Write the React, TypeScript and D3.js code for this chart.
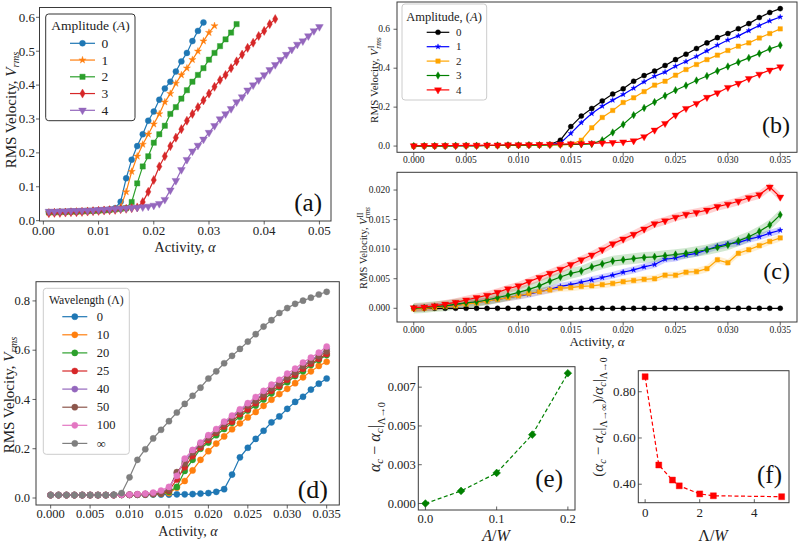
import React from 'react';
import * as d3 from 'd3';

const FONT = '"Liberation Serif","DejaVu Serif","Times New Roman",serif';

// ---------- shared x grids (activity alpha) ----------
const alphaA = [0.001,0.002,0.003,0.004,0.005,0.006,0.007,0.008,0.009,0.010,0.011,0.012,0.013,0.014,0.015,0.016,0.017,0.018,0.019,0.020,0.021,0.022,0.023,0.024,0.025,0.026,0.027,0.028,0.029,0.030,0.031,0.032,0.033,0.034,0.035,0.036,0.037,0.038,0.039,0.040,0.041,0.042,0.043,0.044,0.045,0.046,0.047,0.048,0.049,0.050];
const alphaB = [0.000,0.001,0.002,0.003,0.004,0.005,0.006,0.007,0.008,0.009,0.010,0.011,0.012,0.013,0.014,0.015,0.016,0.017,0.018,0.019,0.020,0.021,0.022,0.023,0.024,0.025,0.026,0.027,0.028,0.029,0.030,0.031,0.032,0.033,0.034,0.035];

// ---------- panel (a) ----------
const aLabels = ['0','1','2','3','4'];
const a0 = [0.025,0.025,0.026,0.026,0.027,0.027,0.028,0.028,0.029,0.030,0.031,0.033,0.037,0.056,0.125,0.18,0.22,0.255,0.295,0.322,0.357,0.39,0.41,0.44,0.47,0.495,0.53,0.56,0.585];
const a1 = [0.024,0.025,0.025,0.026,0.026,0.027,0.027,0.028,0.029,0.030,0.031,0.032,0.034,0.04,0.085,0.145,0.19,0.225,0.255,0.285,0.315,0.35,0.375,0.405,0.43,0.45,0.475,0.50,0.53,0.555,0.575];
const a2 = [0.025,0.025,0.026,0.026,0.027,0.027,0.028,0.029,0.029,0.030,0.031,0.032,0.034,0.035,0.037,0.055,0.11,0.16,0.19,0.23,0.255,0.28,0.315,0.335,0.36,0.385,0.41,0.43,0.45,0.475,0.495,0.515,0.535,0.555,0.58];
const a3 = [0.022,0.023,0.023,0.024,0.025,0.025,0.026,0.027,0.028,0.029,0.030,0.031,0.032,0.034,0.035,0.037,0.039,0.055,0.085,0.12,0.16,0.19,0.22,0.245,0.27,0.295,0.315,0.335,0.355,0.375,0.395,0.415,0.43,0.45,0.47,0.49,0.51,0.525,0.545,0.56,0.58,0.595];
const a4 = [0.027,0.027,0.028,0.028,0.029,0.029,0.030,0.030,0.031,0.032,0.033,0.034,0.035,0.036,0.037,0.038,0.039,0.040,0.042,0.045,0.050,0.062,0.09,0.118,0.15,0.18,0.205,0.222,0.24,0.26,0.28,0.3,0.315,0.33,0.35,0.365,0.385,0.4,0.415,0.43,0.445,0.46,0.475,0.49,0.505,0.52,0.53,0.545,0.56,0.572];

// ---------- panel (b) ----------
const bLabels = ['0','1','2','3','4'];
const b0 = [0.000,0.001,0.001,0.001,0.002,0.002,0.002,0.003,0.003,0.004,0.004,0.005,0.006,0.008,0.03,0.1,0.154,0.193,0.232,0.267,0.294,0.333,0.362,0.385,0.414,0.444,0.472,0.501,0.53,0.557,0.578,0.603,0.629,0.66,0.686,0.706];
const b1 = [0.000,0.001,0.001,0.001,0.002,0.002,0.002,0.003,0.003,0.004,0.004,0.005,0.006,0.007,0.015,0.065,0.12,0.167,0.205,0.236,0.265,0.297,0.33,0.359,0.38,0.41,0.434,0.46,0.489,0.518,0.545,0.566,0.593,0.619,0.643,0.663];
const b2 = [0.000,0.001,0.001,0.001,0.002,0.002,0.002,0.003,0.003,0.004,0.004,0.005,0.005,0.006,0.007,0.009,0.03,0.094,0.147,0.183,0.224,0.248,0.28,0.313,0.333,0.364,0.393,0.419,0.444,0.467,0.491,0.513,0.53,0.555,0.578,0.602];
const b3 = [0.000,0.001,0.001,0.001,0.002,0.002,0.002,0.003,0.003,0.004,0.004,0.005,0.005,0.006,0.007,0.008,0.009,0.011,0.03,0.07,0.111,0.159,0.196,0.226,0.258,0.287,0.311,0.337,0.36,0.386,0.409,0.431,0.453,0.475,0.499,0.518];
const b4 = [0.001,0.002,0.002,0.003,0.003,0.004,0.004,0.005,0.005,0.006,0.006,0.007,0.008,0.009,0.010,0.011,0.012,0.014,0.016,0.018,0.021,0.027,0.048,0.082,0.116,0.159,0.193,0.219,0.25,0.273,0.301,0.322,0.347,0.369,0.39,0.407];

// ---------- panel (c) ----------
const c0 = [0,0,0,0,0,0,0,0,0,0,0,0,0,0,0,0,0,0,0,0,0,0,0,0,0,0,0,0,0,0,0,0,0,0,0,0];
const c1 = [0,0.0001,0.0002,0.0004,0.0005,0.0008,0.001,0.0012,0.0015,0.0018,0.0021,0.0024,0.0028,0.0032,0.0037,0.004,0.0044,0.0048,0.0052,0.0056,0.0061,0.0065,0.007,0.0074,0.0083,0.0085,0.009,0.0093,0.0099,0.0105,0.0109,0.0111,0.0117,0.0121,0.0127,0.0132];
const c2 = [-0.0001,0,0.0001,0.0003,0.0004,0.0007,0.0009,0.0012,0.0015,0.0018,0.0021,0.0025,0.0028,0.0031,0.0034,0.0035,0.0037,0.0038,0.004,0.0042,0.0045,0.0047,0.0049,0.005,0.0056,0.0056,0.0061,0.0062,0.0067,0.0082,0.0077,0.0093,0.0099,0.0106,0.0113,0.0119];
const c3 = [0,0.0001,0.0003,0.0004,0.0007,0.0009,0.0011,0.0014,0.0018,0.0022,0.0027,0.0032,0.0038,0.0046,0.0053,0.0059,0.0063,0.007,0.0075,0.008,0.0082,0.0084,0.0086,0.0087,0.0089,0.0091,0.0093,0.0096,0.0099,0.0103,0.0107,0.0114,0.0121,0.013,0.0141,0.0158];
const c4 = [0.0001,0.0002,0.0004,0.0007,0.001,0.0014,0.0018,0.0022,0.0027,0.0033,0.0038,0.0045,0.0052,0.0059,0.0066,0.0074,0.0082,0.009,0.0099,0.0109,0.0117,0.0125,0.0134,0.0143,0.0148,0.0154,0.0159,0.0162,0.0166,0.0172,0.0176,0.0181,0.0187,0.0192,0.0205,0.0188];
const cSpread = [0, 0.0006, 0.0006, 0.0009, 0.0007];

// ---------- panel (d) ----------
const dLabels = ['0','10','20','25','40','50','100','∞'];
const d0 = [0.012,0.012,0.012,0.012,0.012,0.012,0.012,0.012,0.013,0.013,0.013,0.013,0.013,0.014,0.014,0.014,0.015,0.015,0.016,0.018,0.02,0.025,0.036,0.095,0.165,0.204,0.24,0.273,0.307,0.331,0.362,0.39,0.411,0.44,0.464,0.485];
const d10 = [0.012,0.012,0.012,0.012,0.012,0.012,0.012,0.012,0.012,0.013,0.013,0.014,0.015,0.016,0.018,0.02,0.042,0.069,0.112,0.155,0.19,0.221,0.25,0.279,0.303,0.327,0.349,0.374,0.399,0.422,0.443,0.466,0.49,0.514,0.536,0.553];
const d20 = [0.012,0.012,0.012,0.012,0.012,0.012,0.012,0.012,0.012,0.013,0.013,0.014,0.015,0.016,0.018,0.025,0.045,0.11,0.155,0.2,0.225,0.255,0.28,0.305,0.33,0.355,0.375,0.4,0.425,0.45,0.47,0.495,0.515,0.54,0.56,0.58];
const d25 = [0.012,0.012,0.012,0.012,0.012,0.012,0.012,0.012,0.012,0.013,0.013,0.014,0.015,0.017,0.019,0.03,0.075,0.125,0.17,0.205,0.235,0.265,0.29,0.31,0.34,0.36,0.385,0.41,0.435,0.455,0.48,0.5,0.525,0.545,0.565,0.585];
const d40 = [0.012,0.012,0.012,0.012,0.012,0.012,0.012,0.012,0.012,0.013,0.013,0.014,0.016,0.018,0.021,0.04,0.1,0.15,0.19,0.22,0.25,0.275,0.305,0.33,0.355,0.38,0.4,0.425,0.45,0.47,0.495,0.515,0.54,0.56,0.58,0.605];
const d50 = [0.012,0.012,0.012,0.012,0.012,0.012,0.012,0.012,0.012,0.013,0.013,0.014,0.016,0.018,0.02,0.035,0.105,0.14,0.185,0.215,0.245,0.27,0.3,0.325,0.35,0.375,0.395,0.42,0.445,0.465,0.49,0.51,0.535,0.555,0.575,0.595];
const d100 = [0.012,0.012,0.012,0.012,0.012,0.012,0.012,0.012,0.012,0.013,0.014,0.016,0.018,0.022,0.03,0.045,0.09,0.16,0.195,0.225,0.255,0.28,0.31,0.335,0.36,0.385,0.41,0.435,0.46,0.48,0.505,0.525,0.55,0.57,0.59,0.615];
const dInf = [0.012,0.012,0.012,0.012,0.012,0.012,0.012,0.012,0.013,0.02,0.084,0.155,0.198,0.242,0.277,0.312,0.347,0.382,0.415,0.448,0.485,0.514,0.547,0.577,0.605,0.635,0.665,0.696,0.722,0.751,0.771,0.788,0.801,0.813,0.826,0.837];

// ---------- panel (e) ----------
const eAW = [0, 0.05, 0.1, 0.15, 0.2];
const eShift = [0, 0.00081, 0.00197, 0.00444, 0.0084];

// ---------- panel (f) ----------
const fLW = [0, 0.5, 1, 1.25, 2, 2.5, 5];
const fRatio = [0.865, 0.483, 0.418, 0.393, 0.358, 0.35, 0.346];

// ---------- ticks ----------
const xTicksA = [0, 0.01, 0.02, 0.03, 0.04, 0.05];
const xTickLabA = ['0.00','0.01','0.02','0.03','0.04','0.05'];
const yTicksA = [0, 0.1, 0.2, 0.3, 0.4, 0.5, 0.6];
const yTickLabA = ['0.0','0.1','0.2','0.3','0.4','0.5','0.6'];
const xTicksB = [0, 0.005, 0.01, 0.015, 0.02, 0.025, 0.03, 0.035];
const xTickLabB = ['0.000','0.005','0.010','0.015','0.020','0.025','0.030','0.035'];
const yTicksB = [0, 0.2, 0.4, 0.6];
const yTickLabB = ['0.0','0.2','0.4','0.6'];
const yTicksC = [0, 0.005, 0.01, 0.015, 0.02];
const yTickLabC = ['0.000','0.005','0.010','0.015','0.020'];
const yTicksD = [0, 0.2, 0.4, 0.6, 0.8];
const yTickLabD = ['0.0','0.2','0.4','0.6','0.8'];
const xTicksE = [0, 0.1, 0.2];
const xTickLabE = ['0.0','0.1','0.2'];
const yTicksE = [0, 0.0025, 0.005, 0.0075];
const yTickLabE = ['0.000','0.003','0.005','0.007'];
const xTicksF = [0, 2, 4];
const xTickLabF = ['0','2','4'];
const yTicksF = [0.4, 0.6, 0.8];
const yTickLabF = ['0.40','0.60','0.80'];

// ---------- helpers ----------
type Ser = { xs: number[]; ys: number[]; color: string; m: string; ms: number; band?: number; dash?: string; lw?: number };

function symPath(m: string, size: number): string {
  const t = m === 'o' ? d3.symbolCircle : m === '*' ? d3.symbolStar : m === 's' ? d3.symbolSquare : m === 'v' ? d3.symbolTriangle : d3.symbolDiamond;
  return d3.symbol().type(t).size(size)() || '';
}
function symTf(m: string): string {
  if (m === 'v') return ' rotate(180)';
  if (m === 'D') return ' scale(1.73,1)';
  return '';
}
function Mk({ m, ms, color, x, y }: { m: string; ms: number; color: string; x: number; y: number }) {
  return <path d={symPath(m, ms)} transform={`translate(${x},${y})${symTf(m)}`} fill={color} stroke={color} strokeWidth={0.4} />;
}

interface PanelProps {
  box: [number, number, number, number];
  xDom: [number, number];
  yDom: [number, number];
  xTicks: number[]; xTickLabels: string[];
  yTicks: number[]; yTickLabels: string[];
  fs: number; inward?: boolean;
  series: Ser[];
  xLabGap: number; yLabGap: number;
  children?: React.ReactNode;
}

function Panel(p: PanelProps) {
  const [x0, x1, y0, y1] = p.box;
  const sx = d3.scaleLinear().domain(p.xDom).range([x0, x1]);
  const sy = d3.scaleLinear().domain(p.yDom).range([y1, y0]);
  const tl = 3.5;
  const dir = p.inward ? -1 : 1;
  const line = d3.line<[number, number]>().x(d => sx(d[0])).y(d => sy(d[1]));
  return (
    <g>
      {p.series.filter(s => s.band).map((s, i) => {
        const area = d3.area<[number, number]>().x(d => sx(d[0])).y0(d => sy(d[1] - (s.band as number))).y1(d => sy(d[1] + (s.band as number)));
        const pts = s.ys.map((v, k) => [s.xs[k], v] as [number, number]);
        return <path key={'b' + i} d={area(pts) || ''} fill={s.color} fillOpacity={0.18} stroke="none" />;
      })}
      {p.series.map((s, i) => {
        const pts = s.ys.map((v, k) => [s.xs[k], v] as [number, number]);
        return (
          <g key={'s' + i}>
            <path d={line(pts) || ''} fill="none" stroke={s.color} strokeWidth={s.lw ?? 1.2} strokeDasharray={s.dash} />
            {pts.map((d, k) => <Mk key={k} m={s.m} ms={s.ms} color={s.color} x={sx(d[0])} y={sy(d[1])} />)}
          </g>
        );
      })}
      <rect x={x0} y={y0} width={x1 - x0} height={y1 - y0} fill="none" stroke="#3a3a3a" strokeWidth={1} />
      {p.xTicks.map((t, i) => (
        <g key={'xt' + i}>
          <line x1={sx(t)} x2={sx(t)} y1={y1} y2={y1 + dir * tl} stroke="#3a3a3a" strokeWidth={0.8} />
          <text x={sx(t)} y={y1 + p.xLabGap} textAnchor="middle" fontSize={p.fs} fill="#222">{p.xTickLabels[i]}</text>
        </g>
      ))}
      {p.yTicks.map((t, i) => (
        <g key={'yt' + i}>
          <line x1={x0} x2={x0 - dir * tl} y1={sy(t)} y2={sy(t)} stroke="#3a3a3a" strokeWidth={0.8} />
          <text x={x0 - p.yLabGap} y={sy(t)} dy="0.33em" textAnchor="end" fontSize={p.fs} fill="#222">{p.yTickLabels[i]}</text>
        </g>
      ))}
      {p.children}
    </g>
  );
}

interface LegProps {
  box: [number, number, number, number];
  edge: string;
  title: React.ReactNode; titleX: number; titleY: number; titleFs: number;
  items: { label: string; color: string; m: string; ms: number }[];
  y0: number; dy: number; lx0: number; lx1: number; tx: number; fs: number;
}
function Legend(l: LegProps) {
  const [x0, x1, y0, y1] = l.box;
  return (
    <g>
      <rect x={x0} y={y0} width={x1 - x0} height={y1 - y0} rx={3} fill="#fff" fillOpacity={0.85} stroke={l.edge} strokeWidth={1} />
      <text x={l.titleX} y={l.titleY} textAnchor="middle" fontSize={l.titleFs} fill="#222">{l.title}</text>
      {l.items.map((it, i) => {
        const y = l.y0 + i * l.dy;
        return (
          <g key={i}>
            <line x1={l.lx0} x2={l.lx1} y1={y} y2={y} stroke={it.color} strokeWidth={1.2} />
            <Mk m={it.m} ms={it.ms} color={it.color} x={(l.lx0 + l.lx1) / 2} y={y} />
            <text x={l.tx} y={y} dy="0.33em" fontSize={l.fs} fill="#222">{it.label}</text>
          </g>
        );
      })}
    </g>
  );
}

const tab = ['#1f77b4', '#ff7f0e', '#2ca02c', '#d62728', '#9467bd', '#8c564b', '#e377c2', '#7f7f7f'];
const bCol = ['#000000', '#0000ff', '#ffa500', '#008000', '#ff0000'];
const aMk = ['o', '*', 's', 'd', 'v'];
const aMs = [28, 16, 28, 24, 26];
const bMs = [20, 9, 20, 16, 22];

export default function App() {
  const aVals = [a0, a1, a2, a3, a4];
  const bVals = [b0, b1, b2, b3, b4];
  const cVals = [c0, c1, c2, c3, c4];
  const dVals = [d0, d10, d20, d25, d40, d50, d100, dInf];

  const seriesA: Ser[] = aVals.map((v, i) => ({ xs: alphaA, ys: v, color: tab[i], m: aMk[i], ms: aMs[i] }));
  const seriesB: Ser[] = bVals.map((v, i) => ({ xs: alphaB, ys: v, color: bCol[i], m: aMk[i], ms: bMs[i] }));
  const seriesC: Ser[] = cVals.map((v, i) => ({ xs: alphaB, ys: v, color: bCol[i], m: aMk[i], ms: bMs[i], band: cSpread[i] || undefined }));
  const seriesD: Ser[] = dVals.map((v, i) => ({ xs: alphaB, ys: v, color: tab[i], m: 'o', ms: 30 }));
  const seriesE: Ser[] = [{ xs: eAW, ys: eShift, color: '#008000', m: 'D', ms: 17, dash: '4,2.5' }];
  const seriesF: Ser[] = [{ xs: fLW, ys: fRatio, color: '#ff0000', m: 's', ms: 36, dash: '4,2.5' }];

  const it = (s: string) => <tspan fontStyle="italic">{s}</tspan>;

  return (
    <svg width={800} height={546} style={{ position: 'absolute', left: 0, top: 0, background: '#fff' }} fontFamily={FONT}>
      <rect x={0} y={0} width={800} height={546} fill="#fff" />

      {/* (a) */}
      <Panel box={[39.5, 331, 7.5, 221]} xDom={[-0.0007, 0.0521]} yDom={[-0.001, 0.629]}
        xTicks={xTicksA} xTickLabels={xTickLabA} yTicks={yTicksA} yTickLabels={yTickLabA}
        fs={13} series={seriesA} xLabGap={14} yLabGap={4.5}>
        <text x={185} y={251.5} textAnchor="middle" fontSize={14.5} fill="#222">Activity, {it('α')}</text>
        <text transform="translate(16,110) rotate(-90)" textAnchor="middle" fontSize={15} fill="#222">
          RMS Velocity, {it('V')}<tspan fontStyle="italic" fontSize="0.7em" dy="0.3em">rms</tspan>
        </text>
        <text x={322} y={211} textAnchor="end" fontSize={25} fill="#111">(a)</text>
        <Legend box={[45.7, 135, 14, 120.7]} edge="#333" title={<>Amplitude ({it('A')})</>} titleX={90.5} titleY={29.5} titleFs={13.5}
          items={aLabels.map((lb, i) => ({ label: lb, color: tab[i], m: aMk[i], ms: aMs[i] }))}
          y0={43.3} dy={16.75} lx0={70} lx1={95} tx={101.5} fs={13.5} />
      </Panel>

      {/* (b) */}
      <Panel box={[397, 797, 2, 152.3]} xDom={[-0.0016, 0.0366]} yDom={[-0.032, 0.74]}
        xTicks={xTicksB} xTickLabels={xTickLabB} yTicks={yTicksB} yTickLabels={yTickLabB}
        fs={9.5} series={seriesB} xLabGap={11} yLabGap={7}>
        <text transform="translate(377.5,80) rotate(-90)" textAnchor="middle" fontSize={11} fill="#222">
          RMS Velocity, {it('V')}<tspan fontSize="0.7em" dy="-0.5em" dx="0.1em">I</tspan><tspan fontStyle="italic" fontSize="0.7em" dx="-0.4em" dy="0.95em">rms</tspan>
        </text>
        <text x={790} y={133} textAnchor="end" fontSize={24} fill="#111">(b)</text>
        <Legend box={[402, 486.7, 4, 100]} edge="#cccccc" title={<>Amplitude, ({it('A')})</>} titleX={444} titleY={21} titleFs={12.5}
          items={bLabels.map((lb, i) => ({ label: lb, color: bCol[i], m: aMk[i], ms: bMs[i] }))}
          y0={32.3} dy={14.4} lx0={426.7} lx1={449.3} tx={456} fs={11} />
      </Panel>

      {/* (c) */}
      <Panel box={[397, 797, 172.3, 322]} xDom={[-0.0016, 0.0366]} yDom={[-0.00232, 0.023]}
        xTicks={xTicksB} xTickLabels={xTickLabB} yTicks={yTicksC} yTickLabels={yTickLabC}
        fs={9.5} series={seriesC} xLabGap={11} yLabGap={7}>
        <text x={597} y={346} textAnchor="middle" fontSize={13} fill="#222">Activity, {it('α')}</text>
        <text transform="translate(366.5,248) rotate(-90)" textAnchor="middle" fontSize={10.5} fill="#222">
          RMS Velocity, {it('V')}<tspan fontSize="0.7em" dy="-0.5em" dx="0.1em">II</tspan><tspan fontStyle="italic" fontSize="0.7em" dx="-0.75em" dy="0.95em">rms</tspan>
        </text>
        <text x={790} y={279} textAnchor="end" fontSize={24} fill="#111">(c)</text>
      </Panel>

      {/* (d) */}
      <Panel box={[36, 339.3, 281.7, 505]} xDom={[-0.00186, 0.0366]} yDom={[-0.0284, 0.878]}
        xTicks={xTicksB} xTickLabels={xTickLabB} yTicks={yTicksD} yTickLabels={yTickLabD}
        fs={12.5} series={seriesD} xLabGap={13} yLabGap={6}>
        <text x={188} y={535.5} textAnchor="middle" fontSize={14} fill="#222">Activity,  {it('α')}</text>
        <text transform="translate(14,395) rotate(-90)" textAnchor="middle" fontSize={15} fill="#222">
          RMS Velocity,  {it('V')}<tspan fontStyle="italic" fontSize="0.7em" dy="0.3em">rms</tspan>
        </text>
        <text x={328} y={498} textAnchor="end" fontSize={26} fill="#111">(d)</text>
        <Legend box={[43.3, 129.3, 288.3, 454.3]} edge="#cccccc" title={<>Wavelength (Λ)</>} titleX={86.3} titleY={303.5} titleFs={11.7}
          items={dLabels.map((lb, i) => ({ label: lb, color: tab[i], m: 'o', ms: 30 }))}
          y0={316.7} dy={18.1} lx0={62.3} lx1={87.3} tx={96.7} fs={12.5} />
      </Panel>

      {/* (e) */}
      <Panel box={[418.3, 575, 366.7, 510]} xDom={[-0.01, 0.21]} yDom={[-0.00042, 0.00882]}
        xTicks={xTicksE} xTickLabels={xTickLabE} yTicks={yTicksE} yTickLabels={yTickLabE}
        fs={12.5} inward series={seriesE} xLabGap={13} yLabGap={2.5}>
        <text x={496} y={541} textAnchor="middle" fontSize={16} fill="#222">{it('A')}/{it('W')}</text>
        <text transform="translate(380,437) rotate(-90)" textAnchor="middle" fontSize={16} fill="#222">
          {it('α')}<tspan fontStyle="italic" fontSize="0.7em" dy="0.3em">c</tspan><tspan dy="-0.21em"> − </tspan>{it('α')}<tspan fontStyle="italic" fontSize="0.7em" dy="0.3em">c</tspan><tspan dy="-0.21em">|</tspan><tspan fontSize="0.65em" dy="0.45em">Λ→0</tspan>
        </text>
        <text x={563} y={487} textAnchor="end" fontSize={25} fill="#111">(e)</text>
      </Panel>

      {/* (f) */}
      <Panel box={[638.3, 789, 370.7, 502.7]} xDom={[-0.25, 5.27]} yDom={[0.32, 0.891]}
        xTicks={xTicksF} xTickLabels={xTickLabF} yTicks={yTicksF} yTickLabels={yTickLabF}
        fs={13} inward series={seriesF} xLabGap={14} yLabGap={2.5}>
        <text x={713} y={541} textAnchor="middle" fontSize={16} fill="#222">Λ/{it('W')}</text>
        <text transform="translate(603,417) rotate(-90)" textAnchor="middle" fontSize={15} fill="#222">
          ({it('α')}<tspan fontStyle="italic" fontSize="0.7em" dy="0.3em">c</tspan><tspan dy="-0.21em"> − </tspan>{it('α')}<tspan fontStyle="italic" fontSize="0.7em" dy="0.3em">c</tspan><tspan dy="-0.21em">|</tspan><tspan fontSize="0.65em" dy="0.45em">Λ→∞</tspan><tspan dy="-0.29em">)/</tspan>{it('α')}<tspan fontStyle="italic" fontSize="0.7em" dy="0.3em">c</tspan><tspan dy="-0.21em">|</tspan><tspan fontSize="0.65em" dy="0.45em">Λ→0</tspan>
        </text>
        <text x={782} y={483} textAnchor="end" fontSize={25} fill="#111">(f)</text>
      </Panel>
    </svg>
  );
}
